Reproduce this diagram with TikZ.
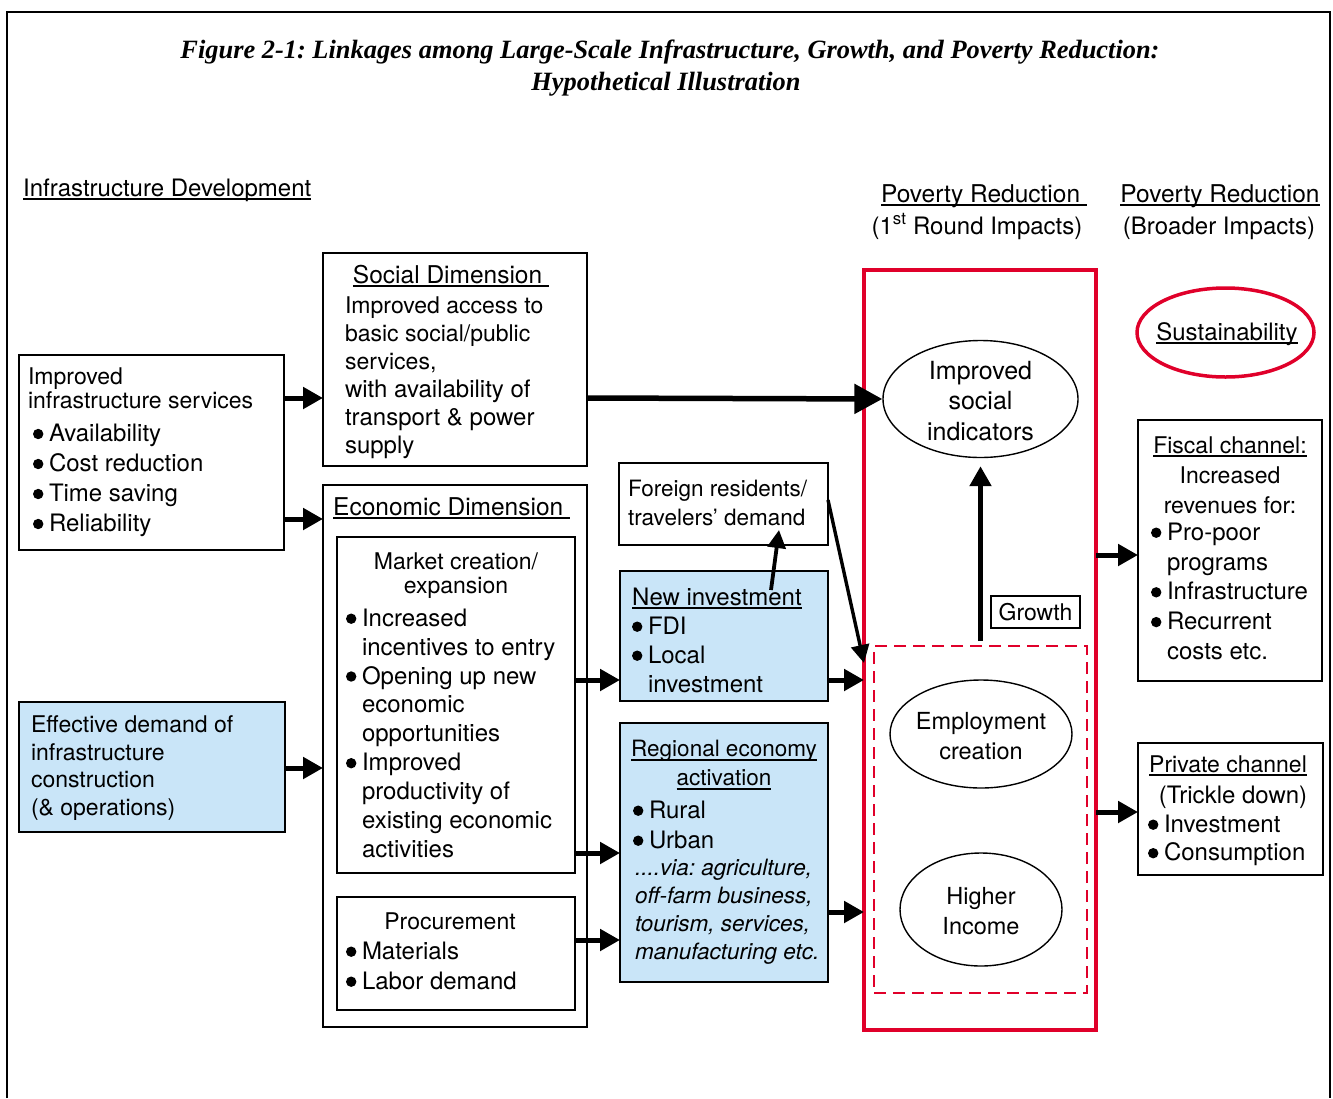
\documentclass[tikz,border=0pt]{standalone}
\usepackage{fontspec}
\setmainfont{TeX Gyre Heros}
\newfontfamily\titlefont{Liberation Serif}
\usetikzlibrary{arrows.meta,shapes.geometric,calc}
\definecolor{infoblue}{RGB}{201,229,248}
\definecolor{povred}{RGB}{224,0,42}
\newlength\bulw
\setlength\bulw{16pt}
\newcommand\bul{\makebox[\bulw][l]{\tikz[baseline=-7.5pt]\fill (0,0) circle (5.2pt);}}
\newcommand\contind{\hspace*{\bulw}}
\newcommand\uln[1]{\setbox0\hbox{#1}\rlap{\rule[-4pt]{\wd0}{1.8pt}}\box0}
\newcommand\fsz[2]{\fontsize{#1}{#2}\selectfont}
\frenchspacing
\begin{document}
\begin{tikzpicture}[x=1pt,y=-1pt,
  box/.style={draw=black, line width=2.3pt, anchor=north west, inner sep=0pt, outer sep=0pt},
  thinbox/.style={box, line width=1.5pt},
  bluebox/.style={box, fill=infoblue},
  txt/.style={anchor=north west, align=left, inner sep=0pt, outer sep=0pt},
  ctxt/.style={align=center, inner sep=0pt, outer sep=0pt},
  oval/.style={ellipse, draw=black, line width=1.4pt, inner sep=0pt},
  arr/.style={line width=5pt, -{Triangle[length=20pt,width=21pt]}},
  bigarr/.style={line width=5.5pt, -{Triangle[length=28pt,width=29pt]}},
  midarr/.style={line width=3.8pt, -{Triangle[length=18pt,width=18pt]}},
]
\useasboundingbox (0,0) rectangle (1333,1098);

% page frame, open at the bottom
\draw[line width=2pt] (7,1098) -- (7,12) -- (1330,12) -- (1330,1098);

% caption
\node[anchor=base, inner sep=0pt, font=\titlefont\bfseries\itshape\fsz{26.4}{32}] (title1) at (670,58)
  {Figure 2-1: Linkages among Large-Scale Infrastructure, Growth, and Poverty Reduction:};
\node[anchor=base, inner sep=0pt, font=\titlefont\bfseries\itshape\fsz{26.4}{32}] (title2) at (666,90)
  {Hypothetical Illustration};

% column headings
\node[anchor=base west, inner sep=0pt, font=\fsz{24}{30}] (hinfra) at (23,196) {\uln{Infrastructure Development}};
\node[anchor=base, inner sep=0pt, font=\fsz{24.5}{30}] (hpova) at (984,202) {\uln{Poverty Reduction\ }};
\node[anchor=base, inner sep=0pt, font=\fsz{24}{30}] (hpovasub) at (977,234) {(1\textsuperscript{st} Round Impacts)};
\node[anchor=base, inner sep=0pt, font=\fsz{24.5}{30}] (hpovb) at (1220,202) {\uln{Poverty Reduction}};
\node[anchor=base, inner sep=0pt, font=\fsz{24}{30}] (hpovbsub) at (1219,234) {(Broader Impacts)};

% infrastructure services
\node[box, minimum width=265pt, minimum height=195pt] (infra) at (19,355) {};
\node[txt, font=\fsz{23}{29.5}] (infratxt) at (28,367.5) {Improved\\[-5.5pt]infrastructure services};
\node[txt, font=\fsz{24}{30}] (infralist) at (33,424) {\bul Availability\\\bul Cost reduction\\\bul Time saving\\\bul Reliability};

% effective demand
\node[bluebox, minimum width=266pt, minimum height=130pt] (effective) at (19,702) {};
\node[txt, font=\fsz{23}{27.7}] (effectivetxt) at (31,715.5) {Effective demand of\\infrastructure\\construction\\(\& operations)};

% social dimension
\node[box, minimum width=264pt, minimum height=213pt] (social) at (323,253) {};
\node[anchor=base, inner sep=0pt, font=\fsz{24.5}{30}] (socialttl) at (451,283) {\uln{Social Dimension\ }};
\node[txt, font=\fsz{23}{28}] (socialtxt) at (345,296.5) {Improved access to\\basic social/public\\services,};
\node[txt, font=\fsz{24}{28}] (socialtxtb) at (345,379.7) {with availability of\\transport \& power\\supply};

% economic dimension
\node[box, minimum width=264pt, minimum height=542pt] (econ) at (323,485) {};
\node[anchor=base west, inner sep=0pt, font=\fsz{24.5}{30}] (econttl) at (333,515) {\uln{Economic Dimension\ }};
\node[thinbox, minimum width=238pt, minimum height=336pt] (market) at (337,537) {};
\node[ctxt, anchor=north, font=\fsz{23}{24}] (marketttl) at (456,552.5) {Market creation/\\expansion};
\node[txt, font=\fsz{24}{28.9}] (marketlist) at (346,608.7) {\bul Increased\\\contind incentives to entry\\\bul Opening up new\\\contind economic\\\contind opportunities\\\bul Improved\\\contind productivity of\\\contind existing economic\\\contind activities};
\node[thinbox, minimum width=238pt, minimum height=113pt] (procure) at (337,897) {};
\node[anchor=base, inner sep=0pt, font=\fsz{23}{30}] (procurettl) at (450,929) {Procurement};
\node[txt, font=\fsz{24}{30}] (procurelist) at (346,941.7) {\bul Materials\\\bul Labor demand};

% middle column
\node[box, minimum width=209pt, minimum height=82pt] (foreign) at (619,463) {};
\node[txt, font=\fsz{22.5}{29}] (foreigntxt) at (628,480.5) {Foreign residents/\\travelers’ demand};

\node[bluebox, minimum width=208pt, minimum height=130pt] (newinv) at (620,571) {};
\node[anchor=base west, inner sep=0pt, font=\fsz{24}{29}] (newinvttl) at (632,605) {\uln{New investment}};
\node[txt, font=\fsz{24}{29}] (newinvlist) at (632,616.7) {\bul FDI\\\bul Local\\\contind investment};

\node[bluebox, minimum width=208pt, minimum height=259pt] (regional) at (620,723) {};
\node[ctxt, anchor=north, font=\fsz{22.5}{29}] (regionalttl) at (724,740.5) {\uln{Regional economy}\\\uln{activation}};
\node[txt, font=\fsz{24}{30}] (regionallist) at (633,800.7) {\bul Rural\\\bul Urban};
\node[txt, font=\itshape\fsz{22.5}{28}] (regionalvia) at (635,859.5) {....via: agriculture,\\off-farm business,\\tourism, services,\\manufacturing etc.};

% first round impacts
\node[box, draw=povred, line width=3.5pt, minimum width=232pt, minimum height=760pt] (redbox) at (864,270) {};
\node[box, draw=povred, line width=2.5pt, dash pattern=on 12pt off 7pt, minimum width=213pt, minimum height=347pt] (dashbox) at (874,646) {};
\node[oval, minimum width=195pt, minimum height=117pt] (socind) at (980.5,399) {};
\node[ctxt, font=\fsz{25}{30.5}] (socindtxt) at (980.5,401) {Improved\\social\\indicators};
\node[draw=black, line width=1.3pt, inner sep=0pt, minimum width=89pt, minimum height=32pt, font=\fsz{23}{28}] (growth) at (1035.5,612) {Growth};
\node[oval, minimum width=182pt, minimum height=108pt] (employ) at (981,734) {};
\node[ctxt, font=\fsz{23.5}{30}] (employtxt) at (981,736) {Employment\\creation};
\node[oval, minimum width=162pt, minimum height=113pt] (income) at (981,909.5) {};
\node[ctxt, font=\fsz{23.5}{30}] (incometxt) at (981,911) {Higher\\Income};

% broader impacts
\node[ellipse, draw=povred, line width=3.5pt, inner sep=0pt, minimum width=177pt, minimum height=89pt] (sustain) at (1225.5,332.5) {};
\node[anchor=base, inner sep=0pt, font=\fsz{24}{30}] (sustaintxt) at (1227,340) {\uln{Sustainability}};

\node[box, minimum width=184pt, minimum height=261pt] (fiscal) at (1138,420) {};
\node[ctxt, anchor=north, font=\fsz{23}{30}] (fiscalttl) at (1230,436.5) {\uln{Fiscal channel:}\\Increased\\revenues for:};
\node[txt, font=\fsz{24}{29.8}] (fiscallist) at (1151,522.7) {\bul Pro-poor\\\contind programs\\\bul Infrastructure\\\bul Recurrent\\\contind costs etc.};

\node[box, minimum width=185pt, minimum height=132pt] (private) at (1138,743) {};
\node[anchor=base, inner sep=0pt, font=\fsz{23}{30}] (privatettl) at (1228,772) {\uln{Private channel}};
\node[anchor=base, inner sep=0pt, font=\fsz{24}{30}] (privatesub) at (1233,803) {(Trickle down)};
\node[txt, font=\fsz{24}{28.5}] (privatelist) at (1148,814.7) {\bul Investment\\\bul Consumption};

% connectors
\draw[arr] (infra.east |- 0,398) -- (social.west |- 0,398);
\draw[arr] (infra.east |- 0,519) -- (econ.west |- 0,519);
\draw[arr] (effective.east |- 0,768) -- (econ.west |- 0,768);
\draw[bigarr] (social.east |- 0,398) -- (socind.west);
\draw[arr] (market.east |- 0,680) -- (newinv.west |- 0,680);
\draw[arr] (market.east |- 0,853) -- (regional.west |- 0,853);
\draw[arr] (procure.east |- 0,940) -- (regional.west |- 0,940);
\draw[arr] (newinv.east |- 0,680) -- (redbox.west |- 0,680);
\draw[arr] (regional.east |- 0,912) -- (redbox.west |- 0,912);
\draw[midarr] ($(newinv.north)+(47,19)$) -- ($(foreign.south)+(55.5,-15)$);
\draw[midarr, line width=3.4pt] (foreign.east |- 0,500) -- (redbox.west |- 0,663);
\draw[arr] (socind.south |- 0,641) -- ([yshift=-8pt]socind.south);
\draw[arr] (redbox.east |- 0,555) -- (fiscal.west |- 0,555);
\draw[arr] (redbox.east |- 0,812) -- (private.west |- 0,812);
\end{tikzpicture}
\end{document}
